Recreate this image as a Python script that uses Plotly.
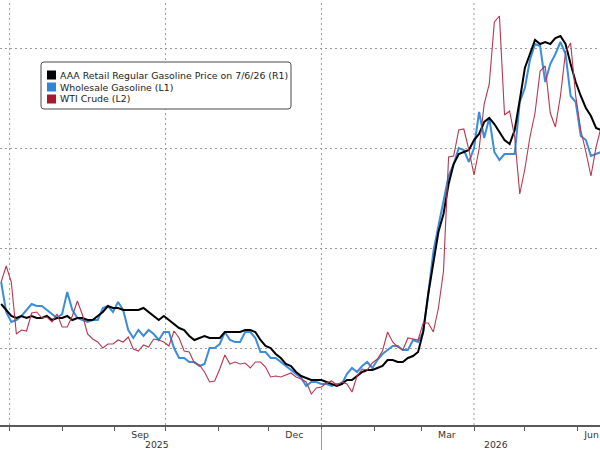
import pandas as pd
import plotly.graph_objects as go

# ---------------- data ----------------
dates = pd.date_range("2025-06-26", periods=119, freq="3D")

# AAA retail regular gasoline, $/gal (right axis, R1)
retail = [
    3.22, 3.19, 3.16, 3.15, 3.16, 3.15, 3.16, 3.15, 3.15, 3.16,
    3.14, 3.15, 3.15, 3.16, 3.14, 3.15, 3.15, 3.14, 3.14, 3.16,
    3.18, 3.21, 3.20, 3.20, 3.19, 3.19, 3.19, 3.19, 3.20, 3.18,
    3.16, 3.14, 3.16, 3.14, 3.12, 3.10, 3.09, 3.06, 3.04, 3.05,
    3.06, 3.05, 3.05, 3.05, 3.08, 3.08, 3.08, 3.08, 3.09, 3.09,
    3.08, 3.04, 3.01, 3.00, 2.97, 2.95, 2.92, 2.91, 2.88, 2.86,
    2.85, 2.84, 2.84, 2.84, 2.83, 2.82, 2.81, 2.82, 2.84, 2.84,
    2.86, 2.88, 2.89, 2.89, 2.90, 2.91, 2.94, 2.94, 2.93, 2.93,
    2.95, 2.96, 2.98, 3.08, 3.27, 3.43, 3.58, 3.67, 3.82, 3.92,
    3.97, 3.98, 3.99, 4.04, 4.07, 4.13, 4.15, 4.12, 4.08, 4.04,
    4.02, 4.09, 4.24, 4.40, 4.47, 4.54, 4.52, 4.53, 4.52, 4.55,
    4.56, 4.52, 4.42, 4.33, 4.26, 4.20, 4.16, 4.10, 4.09,
]

# Wholesale gasoline, $/gal (left axis, L1)
wholesale = [
    2.33, 2.18, 2.13, 2.14, 2.16, 2.19, 2.22, 2.21, 2.21, 2.19,
    2.17, 2.15, 2.17, 2.28, 2.19, 2.15, 2.14, 2.13, 2.14, 2.14,
    2.20, 2.21, 2.18, 2.23, 2.19, 2.09, 2.05, 2.09, 2.06, 2.09,
    2.07, 2.04, 2.08, 2.08, 2.00, 1.95, 1.95, 1.93, 1.93, 1.91,
    1.92, 2.00, 2.00, 2.02, 2.08, 2.04, 2.03, 2.03, 2.08, 2.08,
    2.05, 1.98, 1.98, 1.95, 1.95, 1.93, 1.91, 1.89, 1.87, 1.85,
    1.81, 1.83, 1.83, 1.82, 1.82, 1.81, 1.82, 1.82, 1.87, 1.90,
    1.88, 1.91, 1.93, 1.90, 1.94, 1.97, 1.99, 2.01, 2.01, 1.99,
    1.99, 2.04, 2.03, 2.08, 2.27, 2.48, 2.61, 2.73, 2.86, 2.92,
    3.00, 2.99, 2.93, 3.00, 3.18, 3.05, 3.15, 2.98, 2.94, 2.97,
    2.97, 2.97, 3.23, 3.30, 3.44, 3.52, 3.51, 3.33, 3.42, 3.47,
    3.53, 3.47, 3.26, 3.23, 3.06, 3.04, 2.96, 2.97, 2.98,
]

# WTI crude, $/bbl (second left axis, L2)
wti = [
    66.6, 68.2, 66.6, 61.4, 61.8, 61.7, 63.5, 63.6, 63.0, 63.1,
    62.6, 63.4, 62.1, 62.1, 63.2, 64.7, 63.3, 61.4, 60.9, 60.6,
    60.0, 60.4, 60.4, 60.8, 60.6, 61.1, 59.9, 59.7, 60.3, 60.1,
    60.9, 60.8, 60.6, 60.2, 61.7, 61.0, 59.7, 59.6, 58.5, 58.3,
    57.6, 56.6, 56.7, 57.9, 59.3, 58.4, 58.6, 58.4, 58.5, 58.0,
    58.6, 58.6, 58.1, 57.1, 57.2, 57.1, 57.3, 57.5, 57.1, 56.9,
    56.6, 55.4, 56.0, 56.1, 56.5, 56.7, 56.3, 56.6, 56.4, 55.6,
    57.2, 57.9, 57.8, 58.5, 58.9, 59.7, 61.6, 60.6, 60.1, 59.8,
    61.0, 60.9, 60.8, 62.5, 62.5, 61.6, 64.0, 67.7, 79.1, 79.2,
    81.8, 81.9, 79.8, 77.3, 79.9, 84.4, 86.4, 92.6, 93.2, 83.3,
    83.7, 81.1, 75.4, 77.9, 81.1, 83.5, 87.7, 88.2, 83.5, 82.1,
    85.2, 89.6, 90.5, 85.2, 81.8, 79.6, 77.2, 80.1, 82.1,
]

series_names = [
    "AAA Retail Regular Gasoline Price on 7/6/26 (R1)",
    "Wholesale Gasoline (L1)",
    "WTI Crude (L2)",
]
series_colors = ["#000000", "#2B87DA", "#A8182E"]

month_ticks = pd.date_range("2025-07-01", "2026-06-01", freq="MS")
quarter_grid = ["2025-07-01", "2025-10-01", "2026-01-01", "2026-04-01"]
label_dates = ["2025-09-16", "2025-12-16", "2026-03-16", "2026-06-09 09:00"]
label_text = ["Sep", "Dec", "Mar", "Jun"]
year_dates = ["2025-09-26", "2026-04-14"]
year_text = ["2025", "2026"]
year_break = "2026-01-01"

# ---------------- figure ----------------
W, H = 600, 450
PLOT_H = 425
FONT = "DejaVu Sans"

fig = go.Figure()
fig.add_trace(go.Scatter(x=dates, y=wti, name=series_names[2], yaxis="y3",
                         mode="lines", line=dict(color="#B8364E", width=1.1),
                         showlegend=False, hoverinfo="skip"))
fig.add_trace(go.Scatter(x=dates, y=wholesale, name=series_names[1], yaxis="y",
                         mode="lines", line=dict(color="#3A8DDB", width=2),
                         showlegend=False, hoverinfo="skip"))
fig.add_trace(go.Scatter(x=dates, y=retail, name=series_names[0], yaxis="y2",
                         mode="lines", line=dict(color="#000000", width=2),
                         showlegend=False, hoverinfo="skip"))

shapes = []
for d in quarter_grid:
    shapes.append(dict(type="line", xref="x", yref="paper", x0=d, x1=d, y0=0, y1=1,
                       line=dict(color="#9a9a9a", width=1, dash="2px,3px"), layer="below"))
# year separator below the axis
shapes.append(dict(type="line", xref="x", yref="paper", x0=year_break, x1=year_break,
                   y0=-4 / PLOT_H, y1=-25 / PLOT_H, line=dict(color="#9a9a9a", width=1)))


def px(x):
    return x / W


def py(y):
    return 1 - y / PLOT_H


# legend box (Bloomberg style)
bx0, bx1, by0, by1 = px(41), px(291), py(109), py(62)
rx, ry = 3 / W, 3 / PLOT_H
path = (f"M {bx0+rx},{by1} L {bx1-rx},{by1} Q {bx1},{by1} {bx1},{by1-ry} "
        f"L {bx1},{by0+ry} Q {bx1},{by0} {bx1-rx},{by0} L {bx0+rx},{by0} "
        f"Q {bx0},{by0} {bx0},{by0+ry} L {bx0},{by1-ry} Q {bx0},{by1} {bx0+rx},{by1} Z")
shapes.append(dict(type="path", xref="paper", yref="paper", path=path,
                   line=dict(color="#4a4a4a", width=1), fillcolor="white", layer="above"))

annotations = []
row_y = [75, 87, 99]
for name, col, ry_ in zip(series_names, series_colors, row_y):
    shapes.append(dict(type="rect", xref="paper", yref="paper",
                       x0=px(47), x1=px(56), y0=py(ry_ + 4.5), y1=py(ry_ - 4.5),
                       line=dict(width=0), fillcolor=col, layer="above"))
    annotations.append(dict(text=name, xref="paper", yref="paper", x=px(58), y=py(ry_),
                            xanchor="left", yanchor="middle", showarrow=False,
                            font=dict(family=FONT, size=9.4, color="#222")))

for d, t in zip(year_dates, year_text):
    annotations.append(dict(text=t, xref="x", yref="paper", x=d, y=0, yshift=-19,
                            xanchor="center", yanchor="middle", showarrow=False,
                            font=dict(family=FONT, size=9.3, color="#333")))

fig.update_layout(
    width=W, height=H,
    margin=dict(l=0, r=0, t=0, b=H - PLOT_H, autoexpand=False),
    paper_bgcolor="white", plot_bgcolor="white",
    showlegend=False,
    font=dict(family=FONT, size=9.3, color="#333"),
    xaxis=dict(
        type="date",
        range=["2025-06-25 08:00", "2026-06-14 08:00"],
        tickmode="array", tickvals=label_dates, ticktext=label_text,
        ticks="", showgrid=False, zeroline=False,
        showline=True, linecolor="#5a5a5a", linewidth=2,
        tickfont=dict(family=FONT, size=9.3, color="#333"),
        ticklabeloverflow="allow",
        minor=dict(tickmode="array", tickvals=list(month_ticks), ticks="outside",
                   ticklen=4, tickcolor="#5a5a5a", tickwidth=1, showgrid=False),
        automargin=False, fixedrange=True,
    ),
    yaxis=dict(
        range=[1.615, 3.74], tickmode="linear", tick0=2.0, dtick=0.5,
        showgrid=True, gridcolor="#9a9a9a", gridwidth=1, griddash="2px,3px",
        showticklabels=False, ticks="", zeroline=False, showline=False,
        automargin=False,
    ),
    yaxis2=dict(
        range=[2.615, 4.74], overlaying="y", side="right",
        showgrid=False, showticklabels=False, ticks="", zeroline=False,
        showline=False, automargin=False,
    ),
    yaxis3=dict(
        range=[52.3, 94.8], overlaying="y", side="left",
        showgrid=False, showticklabels=False, ticks="", zeroline=False,
        showline=False, automargin=False,
    ),
    shapes=shapes,
    annotations=annotations,
)

fig.write_html("out.html")
